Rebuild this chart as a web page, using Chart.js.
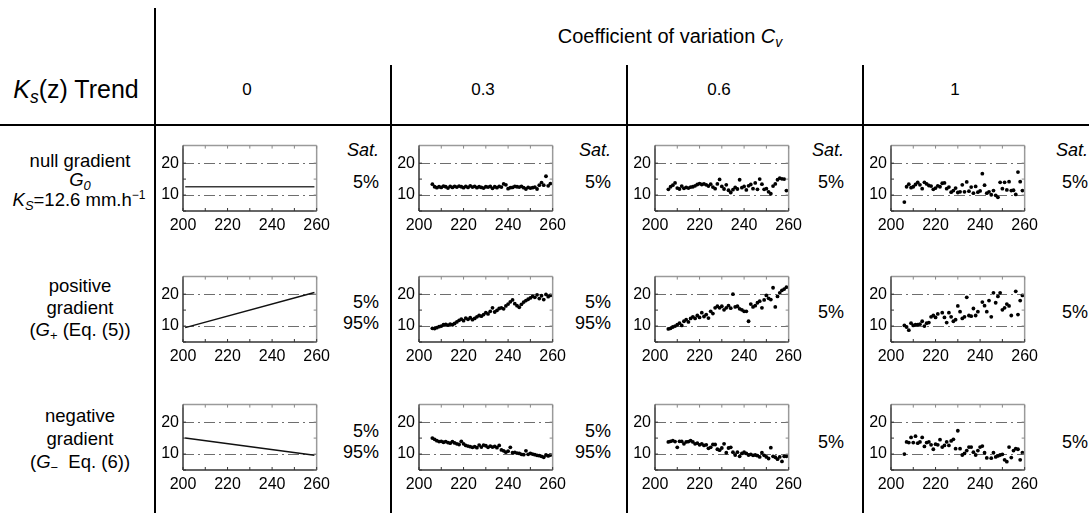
<!DOCTYPE html>
<html>
<head>
<meta charset="utf-8">
<script src="https://cdn.jsdelivr.net/npm/chart.js@4.4.0/dist/chart.umd.min.js"></script>
<style>
  body { margin: 0; background: #fff; }
  #fig { position: relative; width: 1089px; height: 513px; overflow: hidden;
         font-family: "Liberation Sans", Arial, Helvetica, sans-serif; color: #000; }
  .ln { position: absolute; background: #000; }
  .t { position: absolute; white-space: nowrap; line-height: 1; transform: translate(-50%, -50%); }
  .r { position: absolute; white-space: nowrap; line-height: 1; transform: translate(-100%, -50%); font-size: 18px; }
  .rl { font-size: 18.5px; text-align: center; }
  sub { font-size: 0.7em; vertical-align: -0.3em; line-height: 0; }
  sup { font-size: 0.65em; vertical-align: 0.55em; line-height: 0; }
  .panel { position: absolute; width: 180px; height: 103px; }
</style>
</head>
<body>
<div id="fig">
  <!-- table rules -->
  <div class="ln" style="left:154px;top:8px;width:2px;height:505px"></div>
  <div class="ln" style="left:0;top:124px;width:1089px;height:2px"></div>
  <div class="ln" style="left:390px;top:65px;width:2px;height:448px"></div>
  <div class="ln" style="left:626px;top:65px;width:2px;height:448px"></div>
  <div class="ln" style="left:862px;top:65px;width:2px;height:448px"></div>

  <!-- header -->
  <div class="t" style="left:670px;top:36px;font-size:20px">Coefficient of variation <i>C<sub>v</sub></i></div>
  <div class="t" style="left:76px;top:89px;font-size:25px"><i>K<sub>s</sub></i>(z) Trend</div>

  <!-- row labels -->
  <div class="t rl" style="left:80px;top:161px">null gradient</div>
  <div class="t rl" style="left:80px;top:180px"><i>G<sub>0</sub></i></div>
  <div class="t rl" style="left:79px;top:200px"><i>K<sub>S</sub></i>=12.6 mm.h<sup>&minus;1</sup></div>

  <div class="t rl" style="left:80px;top:286px">positive</div>
  <div class="t rl" style="left:80px;top:308px">gradient</div>
  <div class="t rl" style="left:80px;top:330px">(<i>G</i><sub>+</sub> (Eq. (5))</div>

  <div class="t rl" style="left:80px;top:416px">negative</div>
  <div class="t rl" style="left:80px;top:439px">gradient</div>
  <div class="t rl" style="left:80px;top:462px">(<i>G</i><sub>&minus;</sub>&nbsp; Eq. (6))</div>
</div>

<script>
// depth axis (mm) shared by the scatter panels
const depth = [206,207,208,209,210,211,212,213,214,215,216,217,218,219,220,221,222,223,224,225,
               226,227,228,229,230,231,232,233,234,235,236,237,238,239,240,241,242,243,244,245,
               246,247,248,249,250,251,252,253,254,255,256,257,258,259];

const colLabels = ['0', '0.3', '0.6', '1'];

// Cv = 0 : deterministic profiles
const lineDepth = [201, 259];
const g0Cv0     = [12.6, 12.6];
const gPlusCv0  = [9.5, 20.5];
const gMinusCv0 = [15.0, 9.6];

// null gradient G0
const g0Cv03 = [13.4,12.6,12.3,12.6,12.4,12.8,12.6,12.2,12.7,12.4,
                12.7,12.5,12.8,12.6,12.3,12.7,12.4,12.9,12.5,12.7,
                12.3,12.6,12.4,12.2,12.6,12.5,12.7,12.1,12.6,12.3,
                12.7,12.5,13.5,13.2,12.0,12.3,12.4,12.7,12.6,12.5,
                12.7,12.3,11.9,12.4,12.2,12.3,12.5,11.9,13.1,13.9,
                13.1,15.9,12.9,13.6];
const g0Cv06 = [11.8,12.6,13.1,13.8,12.2,11.9,12.8,12.1,12.4,12.2,
                12.5,12.6,12.9,13.3,13.6,13.3,13.5,13.2,12.8,13.4,
                12.5,12.0,13.5,14.9,12.7,11.9,13.2,11.5,10.8,11.7,
                12.4,11.9,14.8,12.3,12.7,11.6,12.9,13.3,12.0,13.8,
                11.8,15.0,13.4,11.8,12.0,11.0,10.4,12.8,13.5,14.8,
                15.3,15.1,15.0,11.4];
const g0Cv1  = [7.8,12.6,13.4,12.3,12.6,13.3,14.0,13.2,12.0,14.0,
                13.5,13.0,12.8,11.8,12.2,12.9,12.6,13.7,13.8,12.0,
                12.5,10.9,11.4,12.2,10.8,11.0,13.2,11.0,14.1,11.2,
                12.5,10.6,12.7,10.9,11.3,16.7,13.1,10.6,11.0,10.1,
                11.4,9.9,9.3,14.0,12.0,14.0,11.6,14.2,11.4,11.5,
                10.2,17.2,14.2,11.4];

// positive gradient G+
const gPlusCv03 = [9.3,9.2,9.5,9.8,10.0,10.4,10.5,10.3,10.6,10.4,
                   10.8,11.3,11.8,12.2,11.7,12.5,12.1,12.6,12.0,12.4,
                   12.9,13.3,13.1,13.6,14.2,13.8,14.6,15.7,14.4,14.9,
                   15.5,15.7,15.4,16.3,16.9,17.6,18.2,17.0,16.4,15.9,
                   16.8,17.5,18.0,18.4,18.8,19.3,19.0,19.8,18.6,19.5,
                   18.3,19.9,19.2,19.6];
const gPlusCv06 = [9.1,9.3,9.7,10.0,10.4,10.9,10.2,11.5,12.0,11.3,
                   12.4,12.9,12.4,13.3,12.7,14.2,13.0,13.6,12.5,14.6,
                   13.9,15.7,16.2,15.7,16.2,15.1,15.7,16.4,15.6,20.0,
                   16.0,16.2,15.4,15.1,14.6,14.6,11.5,16.9,16.0,16.4,
                   17.3,17.8,15.7,18.2,19.6,18.7,18.3,22.0,16.0,19.3,
                   20.4,21.2,21.6,22.2];
const gPlusCv1  = [10.2,9.7,8.7,10.9,10.2,10.4,10.4,10.6,11.5,10.0,
                   10.9,11.1,12.9,13.3,12.7,13.8,null,14.2,12.7,11.1,
                   14.2,12.9,11.5,12.0,16.3,14.5,12.4,12.9,19.0,13.3,
                   13.1,15.5,13.3,14.5,null,17.5,16.4,14.5,18.0,12.9,
                   20.4,17.3,19.3,20.4,15.1,15.7,16.9,16.3,13.3,null,
                   20.9,13.6,18.0,19.6];

// negative gradient G-
const gMinusCv03 = [15.0,14.6,14.2,13.9,14.0,13.7,13.9,13.6,13.4,13.9,
                    13.5,13.2,13.0,14.0,13.2,12.7,12.5,12.3,12.1,12.3,
                    12.0,12.8,12.2,12.8,12.6,12.1,12.5,12.2,12.4,12.0,
                    12.7,11.3,11.0,10.6,10.9,12.1,10.4,10.5,10.3,10.2,
                    9.9,9.8,11.0,9.9,10.2,10.0,9.8,9.6,9.5,9.3,
                    9.0,9.7,9.4,9.7];
const gMinusCv06 = [13.8,14.0,14.2,13.9,12.1,14.0,14.0,13.2,13.8,13.9,
                    14.2,13.8,13.2,13.4,12.9,13.2,12.7,12.9,11.8,12.1,
                    13.0,13.0,11.5,11.2,11.9,13.2,10.4,11.9,12.1,10.6,
                    9.7,10.6,9.3,10.2,10.6,10.2,9.7,9.9,9.6,9.7,
                    9.5,9.1,10.4,9.6,9.1,8.6,12.0,9.3,9.0,8.4,
                    9.1,7.7,9.3,9.3];
const gMinusCv1  = [10.0,13.8,13.6,15.2,13.6,15.6,13.4,13.8,15.2,12.4,
                    13.6,13.8,12.9,11.5,13.1,12.9,14.5,12.2,12.7,13.8,
                    12.7,14.1,14.6,11.7,17.3,11.7,9.7,10.2,11.1,12.2,
                    12.2,10.6,9.7,11.1,12.2,12.5,10.4,8.8,null,8.7,
                    10.4,9.1,9.4,9.7,9.9,8.2,7.6,12.2,8.9,11.1,
                    11.7,11.5,8.2,10.4];

// saturation notes per row / column
const noteRows = [
  [['Sat.', '5%'], ['Sat.', '5%'], ['Sat.', '5%'], ['Sat.', '5%']],
  [['5%', '95%'], ['5%', '95%'], ['5%'], ['5%']],
  [['5%', '95%'], ['5%', '95%'], ['5%'], ['5%']]
];

const grid = [
  [{x: lineDepth, y: g0Cv0}, {x: depth, y: g0Cv03}, {x: depth, y: g0Cv06}, {x: depth, y: g0Cv1}],
  [{x: lineDepth, y: gPlusCv0}, {x: depth, y: gPlusCv03}, {x: depth, y: gPlusCv06}, {x: depth, y: gPlusCv1}],
  [{x: lineDepth, y: gMinusCv0}, {x: depth, y: gMinusCv03}, {x: depth, y: gMinusCv06}, {x: depth, y: gMinusCv1}]
];

const fig = document.getElementById('fig');
const plotLeft = [183, 419, 655, 891];
const plotTop = [137, 268, 396];
const noteRight = [379, 611, 844, 1088];
const noteY = [[150, 182], [302, 323], [431, 452]];
const noteSingleY = [182, 312, 442];

colLabels.forEach((lab, i) => {
  const d = document.createElement('div');
  d.className = 't';
  d.style.cssText = `left:${plotLeft[i] + 64}px;top:89px;font-size:17px`;
  d.textContent = lab;
  fig.appendChild(d);
});

noteRows.forEach((row, r) => {
  row.forEach((lines, c) => {
    lines.forEach((txt, k) => {
      const d = document.createElement('div');
      d.className = 'r';
      let y = noteY[r][k];
      if (lines.length === 1) y = noteSingleY[r];
      d.style.cssText = `left:${noteRight[c]}px;top:${y}px`;
      if (txt === 'Sat.') d.style.fontStyle = 'italic';
      d.textContent = txt;
      fig.appendChild(d);
    });
  });
});

const FONT = {family: '"Liberation Sans", Arial, sans-serif', size: 16};

// box around the plot area, with short inward tick marks
const framePlugin = {
  id: 'frame',
  afterDraw(chart) {
    const {ctx, chartArea: a, scales} = chart;
    const seg = (x1, y1, x2, y2) => { ctx.beginPath(); ctx.moveTo(x1, y1); ctx.lineTo(x2, y2); ctx.stroke(); };
    ctx.save();
    ctx.lineWidth = 1.5;
    ctx.strokeStyle = '#9a9a9a';
    seg(a.left, a.top, a.right, a.top);
    seg(a.right, a.top, a.right, a.bottom);
    ctx.strokeStyle = '#333';
    seg(a.left, a.top, a.left, a.bottom);
    seg(a.left, a.bottom, a.right, a.bottom);
    ctx.lineWidth = 1;
    scales.x.ticks.forEach(t => {
      if (t.value % 10) return;
      const px = scales.x.getPixelForValue(t.value);
      ctx.strokeStyle = '#333'; seg(px, a.bottom, px, a.bottom - 3);
      ctx.strokeStyle = '#888'; seg(px, a.top, px, a.top + 3);
    });
    scales.y.ticks.forEach(t => {
      if (t.value % 5) return;
      const py = scales.y.getPixelForValue(t.value);
      ctx.strokeStyle = '#333'; seg(a.left, py, a.left + 3, py);
      ctx.strokeStyle = '#888'; seg(a.right, py, a.right - 3, py);
    });
    ctx.restore();
  }
};

grid.forEach((row, r) => {
  row.forEach((p, c) => {
    const box = document.createElement('div');
    box.className = 'panel';
    box.style.left = (plotLeft[c] - 28) + 'px';
    box.style.top = (plotTop[r] - 5) + 'px';
    const cv = document.createElement('canvas');
    cv.width = 180; cv.height = 103;
    box.appendChild(cv);
    fig.appendChild(box);

    const pts = p.x.map((x, i) => ({x, y: p.y[i]})).filter(d => d.y !== null);
    const isLine = c === 0;
    new Chart(cv.getContext('2d'), {
      type: 'scatter',
      data: {
        datasets: [{
          data: pts,
          showLine: isLine,
          borderColor: r === 0 ? '#3a3a3a' : '#111',
          borderWidth: 1.5,
          pointRadius: isLine ? 0 : 1.9,
          pointBackgroundColor: '#000',
          pointBorderWidth: 0
        }]
      },
      options: {
        responsive: false,
        animation: false,
        devicePixelRatio: 1,
        layout: {padding: {top: 5, right: 15, left: 0, bottom: 0}},
        plugins: {legend: {display: false}, tooltip: {enabled: false}},
        scales: {
          x: {
            type: 'linear', min: 200, max: 260,
            grid: {display: false, drawTicks: false},
            border: {display: false},
            ticks: {stepSize: 10, autoSkip: false, maxRotation: 0, minRotation: 0, padding: 5,
                    color: '#000', font: FONT,
                    callback: v => (v % 20 === 0 ? String(v) : '')},
            afterFit: s => { s.height = 24; }
          },
          y: {
            min: 5, max: 25.5,
            grid: {drawTicks: false, lineWidth: 1,
                   color: ctx => (ctx.tick && (ctx.tick.value === 10 || ctx.tick.value === 20)) ? '#6e6e6e' : 'rgba(0,0,0,0)'},
            border: {display: false, dash: [11, 4, 2, 4]},
            ticks: {stepSize: 5, autoSkip: false, padding: 4, color: '#000', font: FONT,
                    callback: v => (v === 10 || v === 20 ? String(v) : '')},
            afterFit: s => { s.width = 28; }
          }
        }
      },
      plugins: [framePlugin]
    });
  });
});
</script>
</body>
</html>
